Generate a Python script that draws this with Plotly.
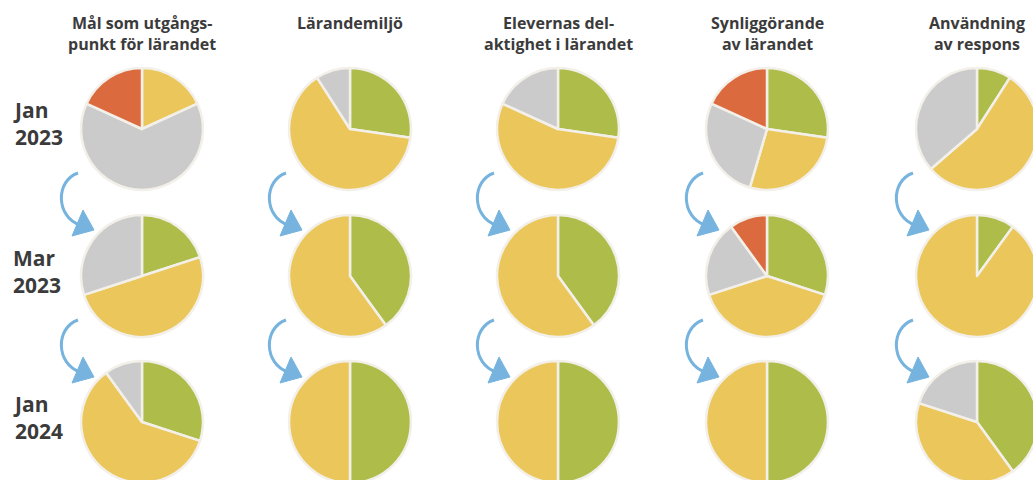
import plotly.graph_objects as go

# ---------------- data ----------------
columns = [
    "Mål som utgångs-<br>punkt för lärandet",
    "Lärandemiljö",
    "Elevernas del-<br>aktighet i lärandet",
    "Synliggörande<br>av lärandet",
    "Användning<br>av respons",
]
periods = ["Jan<br>2023", "Mar<br>2023", "Jan<br>2024"]
levels = ["Grön", "Gul", "Grå", "Röd"]

# counts per period (rows) and column
green = [
    [0, 3, 3, 3, 1],
    [2, 4, 4, 3, 1],
    [3, 5, 5, 5, 4],
]
yellow = [
    [2, 7, 6, 3, 6],
    [5, 6, 6, 4, 9],
    [6, 5, 5, 5, 4],
]
gray = [
    [7, 1, 2, 3, 4],
    [3, 0, 0, 2, 0],
    [1, 0, 0, 0, 2],
]
red = [
    [2, 0, 0, 2, 0],
    [0, 0, 0, 1, 0],
    [0, 0, 0, 0, 0],
]

level_colors = ["#AEBD4A", "#EBC65B", "#CBCBCB", "#DB6A3E"]

# ---------------- layout ----------------
W, H = 1045, 492
col_cx = [142, 350, 558, 767, 977]
row_cy = [129, 276, 422]
R = 61
TEXT = "#3B3B3B"
ARROW = "#76B4DF"
FONT = "Open Sans"


def px(x):
    return x / W


def py(y):
    return 1 - y / H


fig = go.Figure()

for ri in range(len(periods)):
    for ci in range(len(columns)):
        vals = [green[ri][ci], yellow[ri][ci], gray[ri][ci], red[ri][ci]]
        keep = [i for i, v in enumerate(vals) if v > 0]
        cx, cy = col_cx[ci], row_cy[ri]
        fig.add_trace(go.Pie(
            values=[vals[i] for i in keep],
            labels=[levels[i] for i in keep],
            marker=dict(colors=[level_colors[i] for i in keep],
                        line=dict(color="#F3F0EA", width=2.5)),
            sort=False,
            direction="clockwise",
            rotation=0,
            textinfo="none",
            hovertemplate="%{label}: %{value}<extra></extra>",
            domain=dict(x=[px(cx - R), px(cx + R)], y=[py(cy + R), py(cy - R)]),
            showlegend=False,
        ))

annotations = []
for ci, title in enumerate(columns):
    annotations.append(dict(
        text="<b>" + title + "</b>", x=px(col_cx[ci]), y=py(10),
        xref="paper", yref="paper", xanchor="center", yanchor="top",
        showarrow=False, align="center",
        font=dict(family=FONT, size=16, color=TEXT),
    ))
for ri, lab in enumerate(periods):
    annotations.append(dict(
        text="<b>" + lab + "</b>", x=px(11), y=py(row_cy[ri] - 5),
        xref="paper", yref="paper", xanchor="left", yanchor="middle",
        showarrow=False, align="left",
        font=dict(family=FONT, size=21, color=TEXT),
    ))

shapes = []
for ci in range(len(columns)):
    for ri in range(len(periods) - 1):
        x0, y0 = col_cx[ci], row_cy[ri]
        pts = [(x0 - 64, y0 + 44), (x0 - 87, y0 + 52), (x0 - 86, y0 + 88), (x0 - 62, y0 + 96)]
        path = "M {} {} C {} {}, {} {}, {} {}".format(
            px(pts[0][0]), py(pts[0][1]), px(pts[1][0]), py(pts[1][1]),
            px(pts[2][0]), py(pts[2][1]), px(pts[3][0]), py(pts[3][1]))
        shapes.append(dict(type="path", path=path, xref="paper", yref="paper",
                           line=dict(color=ARROW, width=3)))
        tri = [(x0 - 59, y0 + 81), (x0 - 48, y0 + 101), (x0 - 70, y0 + 107)]
        tpath = "M {} {} L {} {} L {} {} Z".format(
            px(tri[0][0]), py(tri[0][1]), px(tri[1][0]), py(tri[1][1]),
            px(tri[2][0]), py(tri[2][1]))
        shapes.append(dict(type="path", path=tpath, xref="paper", yref="paper",
                           fillcolor=ARROW, line=dict(color=ARROW, width=1)))

fig.update_layout(
    width=W, height=H,
    margin=dict(l=0, r=0, t=0, b=0),
    paper_bgcolor="white", plot_bgcolor="white",
    annotations=annotations, shapes=shapes,
    font=dict(family=FONT),
)

fig.write_html(
    "out.html",
    config={"displayModeBar": False},
    post_script="document.body.style.margin='0';document.body.style.overflow='hidden';",
)
